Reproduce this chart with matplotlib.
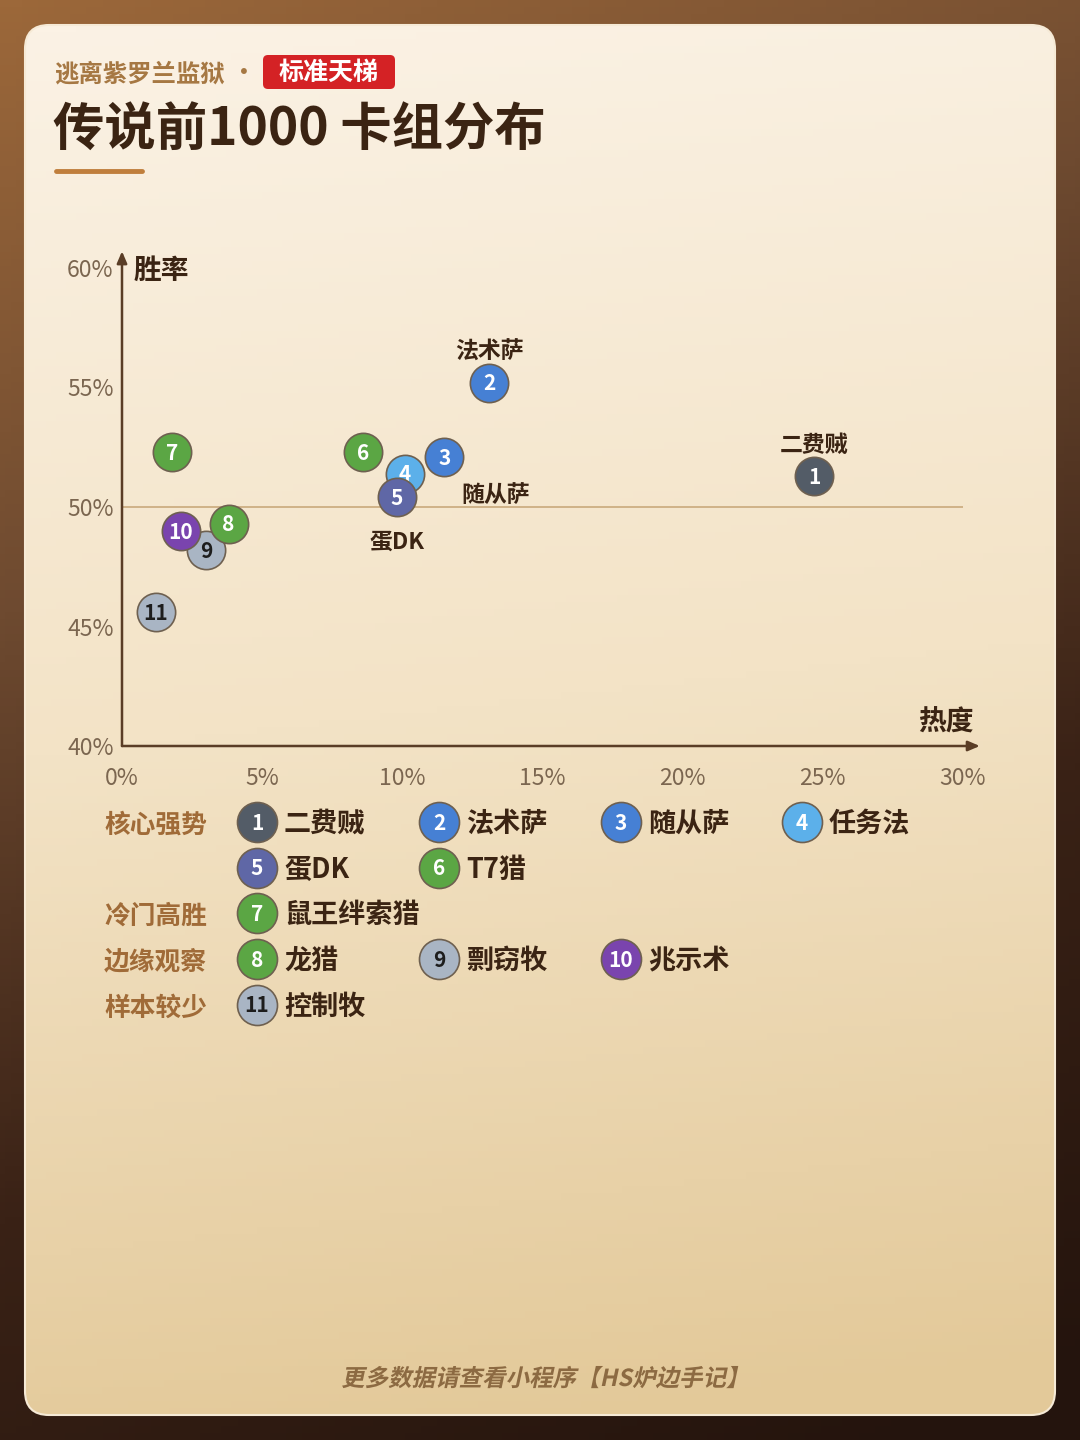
import numpy as np
import matplotlib
matplotlib.use("Agg")
import matplotlib.pyplot as plt
from matplotlib.patches import FancyBboxPatch, PathPatch
from matplotlib.textpath import TextPath
from matplotlib.font_manager import FontProperties
from matplotlib.transforms import Affine2D
from matplotlib.colors import LinearSegmentedColormap

plt.rcParams["font.family"] = ["Noto Sans CJK SC", "DejaVu Sans"]

# ---- data ----
deck_ids = [1, 2, 3, 4, 5, 6, 7, 8, 9, 10, 11]
deck_names = ["二费贼", "法术萨", "随从萨", "任务法", "蛋DK", "T7猎",
              "鼠王绊索猎", "龙猎", "剽窃牧", "兆示术", "控制牧"]
popularity = [24.7, 13.1, 11.5, 10.1, 9.8, 8.6, 1.8, 3.8, 3.0, 2.1, 1.2]
winrate = [51.3, 55.2, 52.1, 51.4, 50.4, 52.3, 52.3, 49.3, 48.2, 49.0, 45.6]
deck_colors = ["#535c67", "#4680d4", "#4680d4", "#5cb0ea", "#5f67a6", "#5ba644",
               "#5ba644", "#5ba644", "#a9b5c4", "#7a44ae", "#a9b5c4"]
group_names = ["核心强势", "冷门高胜", "边缘观察", "样本较少"]
group_members = [[1, 2, 3, 4, 5, 6], [7], [8, 9, 10], [11]]
x_ticks = [0, 5, 10, 15, 20, 25, 30]
y_ticks = [40, 45, 50, 55, 60]

W, H = 1080, 1440
fig = plt.figure(figsize=(W / 100, H / 100), dpi=100)

# background (pixel coords, y from top)
bg = fig.add_axes([0, 0, 1, 1])
bg.set_xlim(0, W)
bg.set_ylim(H, 0)
bg.axis("off")

yy, xx = np.mgrid[0:1:200j, 0:1:200j]
outer = LinearSegmentedColormap.from_list("o", ["#9c683a", "#6e4a30", "#3a2216", "#24140d"])
bg.imshow(np.clip(yy * 1.1 + xx * 0.35, 0, 1.4) / 1.4, cmap=outer,
          extent=[0, W, H, 0], aspect="auto", zorder=0)

card = FancyBboxPatch((25, 25), 1030, 1390, boxstyle="round,pad=0,rounding_size=24",
                      facecolor="none", edgecolor="#f6ead6", linewidth=1.5, zorder=2)
bg.add_patch(card)
inner = LinearSegmentedColormap.from_list("c", ["#fbf2e5", "#f3e3c6", "#e3c999"])
img = bg.imshow(np.clip(yy * 0.95 + xx * 0.08, 0, 1), cmap=inner,
                extent=[25, 1055, 1415, 25], aspect="auto", zorder=1)
img.set_clip_path(card)

# header
bg.text(54, 74, "逃离紫罗兰监狱", fontsize=17.6, fontweight="bold", color="#a67843",
        va="center", ha="left", zorder=3)
bg.text(244, 74, "•", fontsize=20, color="#a67843", va="center", ha="center", zorder=3)
bg.add_patch(FancyBboxPatch((263, 55), 132, 34, boxstyle="round,pad=0,rounding_size=5",
                            facecolor="#d42225", edgecolor="none", zorder=3))
bg.text(329, 73, "标准天梯", fontsize=18, fontweight="bold", color="white",
        va="center", ha="center", zorder=4)
bg.text(53, 130, "传说前1000 卡组分布", fontsize=37, fontweight="bold", color="#3b2413",
        va="center", ha="left", zorder=3)
bg.plot([56, 142], [171, 171], color="#c07e3c", linewidth=3.5, solid_capstyle="round", zorder=3)

# footer, slanted
fp = FontProperties(family="Noto Sans CJK SC", weight="bold")
tp = TextPath((0, 0), "更多数据请查看小程序【HS炉边手记】", size=23.5, prop=fp)
ext = tp.get_extents()
tr = (Affine2D().translate(-ext.x0 - ext.width / 2, 0).skew_deg(12, 0)
      .scale(1, -1).translate(538, 1386) + bg.transData)
bg.add_patch(PathPatch(tp, transform=tr, facecolor="#8c6a42", edgecolor="none", zorder=3))

# scatter axes
ax = fig.add_axes([122 / W, 1 - 746 / H, (963 - 122) / W, (746 - 268) / H])
ax.set_facecolor("none")
ax.set_xlim(0, 30)
ax.set_ylim(40, 60)
for s in ax.spines.values():
    s.set_visible(False)
ax.set_xticks(x_ticks)
ax.set_xticklabels([f"{t}%" for t in x_ticks])
ax.set_yticks(y_ticks)
ax.set_yticklabels([f"{t}%" for t in y_ticks])
ax.tick_params(length=0, labelsize=16.5, labelcolor="#7b6650", pad=6)
ax.tick_params(axis="x", pad=15)

axis_col = "#5a3d26"
ax.annotate("", xy=(0, 1.035), xytext=(0, 0), xycoords="axes fraction",
            arrowprops=dict(arrowstyle="-|>,head_length=0.7,head_width=0.3",
                            color=axis_col, lw=1.8, shrinkA=0, shrinkB=0))
ax.annotate("", xy=(1.02, 0), xytext=(0, 0), xycoords="axes fraction",
            arrowprops=dict(arrowstyle="-|>,head_length=0.7,head_width=0.3",
                            color=axis_col, lw=1.8, shrinkA=0, shrinkB=0))
ax.text(0.014, 0.995, "胜率", transform=ax.transAxes, fontsize=20, fontweight="bold",
        color="#3b2413", va="center", ha="left")
ax.text(0.979, 0.05, "热度", transform=ax.transAxes, fontsize=20, fontweight="bold",
        color="#3b2413", va="center", ha="center")
ax.plot([0, 30], [50, 50], color="#c9a97c", linewidth=1.2, zorder=1)

order_z = {9: 2, 11: 2}
for i, d in enumerate(deck_ids):
    z = order_z.get(d, 3 + i * 0.1)
    ax.scatter(popularity[i], winrate[i], s=760, color=deck_colors[i],
               edgecolor="#6e6050", linewidth=1.2, zorder=z, clip_on=False)
    tc = "#1d1d1d" if deck_colors[i] == "#a9b5c4" else "white"
    ax.text(popularity[i], winrate[i] - 0.05, str(d), fontsize=15, fontweight="bold",
            color=tc, ha="center", va="center", zorder=z + 0.05)

label_offsets = {1: (0, 22), 2: (0, 22), 3: (37, -28), 5: (0, -32)}
for d, (ox, oy) in label_offsets.items():
    i = d - 1
    ax.annotate(deck_names[i], (popularity[i], winrate[i]), xytext=(ox, oy),
                textcoords="offset points", ha="center", va="center", fontsize=16.5,
                fontweight="bold", color="#3b2413", zorder=6)

# legend
row_y = 822
col_x = [257, 439, 621, 802]
for g, members in enumerate(group_names):
    bg.text(104, row_y + 3, members, fontsize=18.5, fontweight="bold", color="#a06b38",
            va="center", ha="left", zorder=3)
    ids = group_members[g]
    for k, d in enumerate(ids):
        if k > 0 and k % 4 == 0:
            row_y += 45.5
        cx = col_x[k % 4]
        i = d - 1
        bg.scatter(cx, row_y, s=830, color=deck_colors[i], edgecolor="#6e6050",
                   linewidth=1.2, zorder=3)
        tc = "#1d1d1d" if deck_colors[i] == "#a9b5c4" else "white"
        bg.text(cx, row_y + 1, str(d), fontsize=15, fontweight="bold", color=tc,
                ha="center", va="center", zorder=4)
        bg.text(cx + 27, row_y + 2, deck_names[i], fontsize=19.5, fontweight="bold",
                color="#3b2413", ha="left", va="center", zorder=4)
    row_y += 45.8

fig.savefig("out.png", dpi=100)
